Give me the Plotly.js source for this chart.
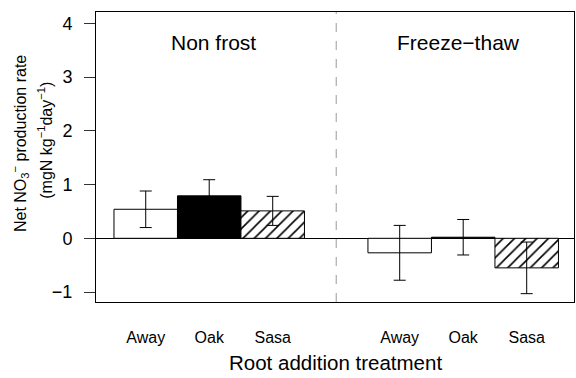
<!DOCTYPE html>
<html>
<head>
<meta charset="utf-8">
<script src="https://cdn.plot.ly/plotly-3.0.1.min.js"></script>
<style>
  html, body { margin: 0; padding: 0; background: #fff; }
  #chart { width: 576px; height: 378px; }
</style>
</head>
<body>
<div id="chart"></div>
<script>
// Net nitrate production by root addition treatment, two soil conditions
const treatments = ['Away', 'Oak', 'Sasa'];
const conditions = ['Non frost', 'Freeze\u2212thaw'];

const nonFrostMean = [0.54, 0.79, 0.51];
const nonFrostSE   = [0.34, 0.30, 0.27];
const freezeThawMean = [-0.27, 0.02, -0.55];
const freezeThawSE   = [0.51, 0.33, 0.48];

// fill style for each treatment: plain white, solid black, hatched
const fillColors = ['white', 'black', 'white'];
const fillPatterns = ['', '', '/'];

const groupStart = [1, 5];   // first slot of each condition on the x scale

// one trace per treatment, holding its bar in both conditions
const data = treatments.map((t, i) => {
  const marker = {
    color: fillColors[i],
    line: { color: 'black', width: 1 }
  };
  if (fillPatterns[i]) {
    marker.pattern = {
      shape: fillPatterns[i],
      fgcolor: 'black',
      fgopacity: 1,
      bgcolor: 'white',
      fillmode: 'replace',
      size: 8,
      solidity: 0.2
    };
  }
  return {
    type: 'bar',
    name: t,
    x: groupStart.map(s => s + i),
    y: [nonFrostMean[i], freezeThawMean[i]],
    width: 1,
    marker: marker,
    error_y: {
      type: 'data',
      array: [nonFrostSE[i], freezeThawSE[i]],
      visible: true,
      color: 'black',
      thickness: 1,
      width: 6
    },
    hoverinfo: 'y',
    showlegend: false
  };
});

const tickPositions = [];
const tickLabels = [];
groupStart.forEach(s => treatments.forEach((t, i) => {
  tickPositions.push(s + i);
  tickLabels.push(t);
}));

const font = 'Liberation Sans, Arial, sans-serif';

const layout = {
  width: 576,
  height: 378,
  margin: { l: 96, r: 2, t: 12, b: 76, pad: 0 },
  paper_bgcolor: 'white',
  plot_bgcolor: 'white',
  font: { family: font, color: 'black' },
  barmode: 'overlay',
  bargap: 0,
  xaxis: {
    range: [0.217, 7.745],
    tickvals: tickPositions,
    ticktext: tickLabels,
    ticks: '',
    ticklabelstandoff: 21,
    tickfont: { size: 16 },
    showgrid: false,
    zeroline: false,
    showline: true,
    linecolor: 'black',
    linewidth: 1,
    mirror: true,
    fixedrange: true
  },
  yaxis: {
    range: [-1.185, 4.21],
    tickvals: [-1, 0, 1, 2, 3, 4],
    ticks: 'outside',
    ticklen: 11,
    tickcolor: '#333',
    tickwidth: 1,
    ticklabelstandoff: 8,
    tickfont: { size: 18 },
    showgrid: false,
    zeroline: true,
    zerolinecolor: 'black',
    zerolinewidth: 1,
    showline: true,
    linecolor: 'black',
    linewidth: 1,
    mirror: true,
    fixedrange: true
  },
  shapes: [{
    type: 'line',
    xref: 'x', yref: 'paper',
    x0: 4, x1: 4, y0: 0, y1: 1,
    line: { color: '#999', width: 1, dash: 'dash' },
    layer: 'below'
  }],
  annotations: [
    {
      text: conditions[0], xref: 'x', yref: 'paper',
      x: 2.07, y: 0.894, xanchor: 'center', yanchor: 'middle',
      showarrow: false, font: { size: 21 }
    },
    {
      text: conditions[1], xref: 'x', yref: 'paper',
      x: 5.92, y: 0.894, xanchor: 'center', yanchor: 'middle',
      showarrow: false, font: { size: 21 }
    },
    {
      text: 'Root addition treatment', xref: 'paper', yref: 'paper',
      x: 0.501, y: -0.207, xanchor: 'center', yanchor: 'middle',
      showarrow: false, font: { size: 20.5 }
    },
    {
      text: 'Net NO<sub>3</sub><sup>\u2212</sup> production rate',
      xref: 'paper', yref: 'paper',
      x: -0.159, y: 0.548, xanchor: 'center', yanchor: 'middle',
      textangle: -90, showarrow: false, font: { size: 16 }
    },
    {
      text: '(mgN kg<sup>\u22121</sup>day<sup>\u22121</sup>)',
      xref: 'paper', yref: 'paper',
      x: -0.107, y: 0.559, xanchor: 'center', yanchor: 'middle',
      textangle: -90, showarrow: false, font: { size: 16 }
    }
  ]
};

Plotly.newPlot('chart', data, layout, { displayModeBar: false, staticPlot: true });
</script>
</body>
</html>
